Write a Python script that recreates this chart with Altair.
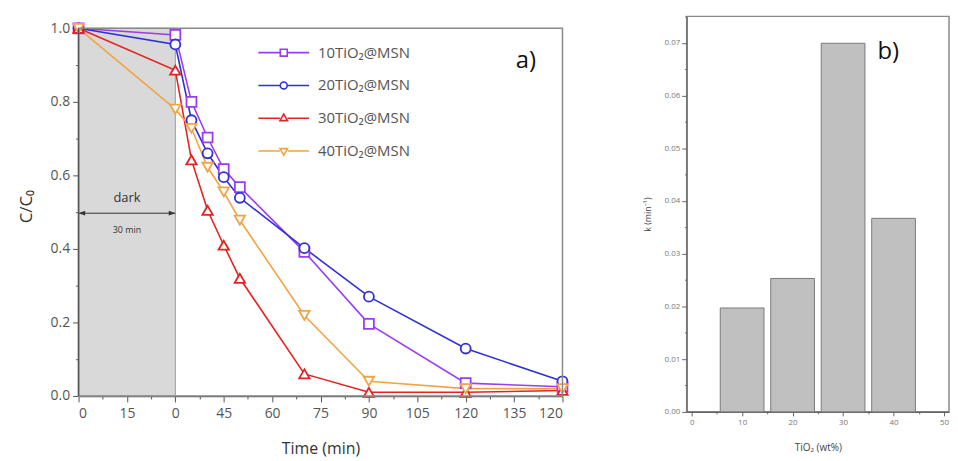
import altair as alt
import pandas as pd

# ---------------- data ----------------
time_min = [0, 30, 35, 40, 45, 50, 70, 90, 120, 150]
series_names = ["10TiO₂@MSN", "20TiO₂@MSN", "30TiO₂@MSN", "40TiO₂@MSN"]
c_10 = [1.0, 0.982, 0.80, 0.703, 0.617, 0.568, 0.392, 0.196, 0.035, 0.025]
c_20 = [1.0, 0.956, 0.75, 0.66, 0.595, 0.539, 0.402, 0.27, 0.129, 0.04]
c_30 = [1.0, 0.886, 0.642, 0.505, 0.41, 0.32, 0.06, 0.01, 0.01, 0.015]
c_40 = [1.0, 0.78, 0.728, 0.622, 0.555, 0.478, 0.219, 0.04, 0.02, 0.02]
series_values = [c_10, c_20, c_30, c_40]
series_colors = ["#9b3cf0", "#3030d6", "#e62222", "#f2a444"]
series_shapes = ["square", "circle", "triangle-up", "triangle-down"]
series_sizes = [100, 100, 110, 110]

x_tick_labels = ["0", "15", "0", "45", "60", "75", "90", "105", "120", "135", "120"]

dark_start, dark_end = 0, 30
y_top_extra = 1.0324  # panel a plot area extends slightly above 1.0

tio2_wt = [10, 20, 30, 40]
k_values = [0.0197, 0.0253, 0.0699, 0.0367]

FONT = "Open Sans"

# ---------------- panel a ----------------
rows = []
for name, vals in zip(series_names, series_values):
    for t, c in zip(time_min, vals):
        rows.append({"t": t, "c": c, "series": name})
df = pd.DataFrame(rows)

label_arr = "[" + ",".join("'%s'" % s for s in x_tick_labels) + "]"
x_axis = alt.Axis(
    values=[i * 7.5 for i in range(21)],
    labelExpr="datum.value %% 15 === 0 ? %s[round(datum.value/15)] : ''" % label_arr,
    tickSize={"condition": {"test": "datum.value % 15 === 0", "value": 6}, "value": 3},
    labelFontSize=14, labelColor="#555", labelFont=FONT, labelPadding=5,
    title="Time (min)", titleFontSize=16, titleFont=FONT, titleColor="#333",
    titleFontWeight="normal", titlePadding=20,
    grid=False, domainColor="#555", domainWidth=1.5, tickColor="#555",
    labelOverlap=False,
)
y_axis = alt.Axis(
    values=[round(i * 0.1, 1) for i in range(11)],
    labelExpr="round(datum.value*10) % 2 === 0 ? format(datum.value, '.1f') : ''",
    tickSize={"condition": {"test": "round(datum.value*10) % 2 === 0", "value": 6}, "value": 3},
    labelFontSize=14, labelColor="#555", labelFont=FONT, labelPadding=3,
    title="C/C₀", titleFontSize=17, titleFont=FONT, titleColor="#333",
    titleFontWeight="normal", titlePadding=15, domain=False,
    grid=False, tickColor="#555",
)
xs = alt.Scale(domain=[0, 150], nice=False, zero=False)
ys = alt.Scale(domain=[0, y_top_extra], nice=False)

X = alt.X("t:Q", scale=xs, axis=x_axis)
Y = alt.Y("c:Q", scale=ys, axis=y_axis)
color_scale = alt.Scale(domain=series_names, range=series_colors)

dark_df = pd.DataFrame({"t": [dark_start], "t_end": [dark_end], "c": [0.0], "c_end": [1.0]})
dark = alt.Chart(dark_df).mark_rect(fill="#d9d9d9", stroke="#9a9a9a", strokeWidth=1).encode(
    x=X, x2="t_end:Q", y=Y, y2="c_end:Q")

frame_df = pd.DataFrame({"t": [0], "t_end": [150], "c": [0.0], "c_end": [1.0]})
frame = alt.Chart(frame_df).mark_rect(fill="white", fillOpacity=0, stroke="#8a8a8a",
                                      strokeWidth=1.5).encode(x=X, x2="t_end:Q", y=Y, y2="c_end:Q")
left_axis_line = alt.Chart(frame_df).mark_rule(color="#555", strokeWidth=1.5).encode(
    x=X, y=Y, y2="c_end:Q")

arrow_df = pd.DataFrame({"t": [dark_start], "t_end": [dark_end], "c": [0.497]})
arrow = alt.Chart(arrow_df).mark_rule(color="#333", strokeWidth=1).encode(x=X, x2="t_end:Q", y=Y)
head_l = alt.Chart(pd.DataFrame({"t": [dark_start], "c": [0.497]})).mark_point(
    filled=True, color="#333", size=36, opacity=1, shape="M0,0L2.2,-0.8L2.2,0.8Z").encode(x=X, y=Y)
head_r = alt.Chart(pd.DataFrame({"t": [dark_end], "c": [0.497]})).mark_point(
    filled=True, color="#333", size=36, opacity=1, shape="M0,0L-2.2,-0.8L-2.2,0.8Z").encode(x=X, y=Y)

ann_dark = alt.Chart(pd.DataFrame({"t": [15], "c": [0.537], "txt": ["dark"]})).mark_text(
    font=FONT, fontSize=13, color="#333", baseline="middle").encode(x=X, y=Y, text="txt:N")
ann_min = alt.Chart(pd.DataFrame({"t": [15], "c": [0.45], "txt": ["30 min"]})).mark_text(
    font=FONT, fontSize=9, color="#333", baseline="middle").encode(x=X, y=Y, text="txt:N")

series_layers = []
for name, col, shp, sz in zip(series_names, series_colors, series_shapes, series_sizes):
    sub = df[df["series"] == name]
    series_layers.append(alt.Chart(sub).mark_line(strokeWidth=1.6, color=col).encode(x=X, y=Y))
for name, col, shp, sz in zip(series_names, series_colors, series_shapes, series_sizes):
    sub = df[df["series"] == name]
    series_layers.append(
        alt.Chart(sub).mark_point(shape=shp, size=sz, filled=False, fill="white", fillOpacity=1,
                                  stroke=col, strokeWidth=1.8, opacity=1).encode(x=X, y=Y))

legend_paths = [
    "M-7.3,0H-1M1,0H7.3M-1,-1H1V1H-1Z",
    "M-7.3,0H-1M1,0H7.3M1,0A1,1 0 1,1 -1,0A1,1 0 1,1 1,0Z",
    "M-7.3,0H-1.1M1.1,0H7.3M0,-1.2L1.1,0.7H-1.1Z",
    "M-7.3,0H-1.1M1.1,0H7.3M0,1.2L1.1,-0.7H-1.1Z",
]
legend_layer = alt.Chart(df).transform_filter("false").mark_point(filled=False, strokeWidth=1.6).encode(
    x=X, y=Y,
    color=alt.Color("series:N", scale=color_scale,
                    legend=alt.Legend(orient="none", legendX=199, legendY=29, title=None,
                                      labelFont=FONT, labelFontSize=15, labelColor="#555",
                                      symbolSize=49, symbolStrokeWidth=1.6, labelOffset=27,
                                      rowPadding=17, padding=0, symbolOpacity=1)),
    shape=alt.Shape("series:N", scale=alt.Scale(domain=series_names, range=legend_paths)),
)

label_df = pd.DataFrame({"txt": ["a)"]})
label_a = alt.Chart(label_df).mark_text(font=FONT, fontSize=24, color="#111", align="left",
                                        baseline="middle").encode(
    x=alt.value(440), y=alt.value(45), text="txt:N")

panel_a = alt.layer(dark, arrow, head_l, head_r, ann_dark, ann_min, *series_layers,
                    frame, left_axis_line, legend_layer, label_a).properties(
    width=487, height=382, view=alt.ViewBackground(strokeOpacity=0))

# ---------------- panel b ----------------
bdf = pd.DataFrame({"wt": tio2_wt, "k": k_values})
bx_axis = alt.Axis(
    values=[i * 5 for i in range(11)],
    labelExpr="datum.value % 10 === 0 ? datum.value : ''",
    tickSize={"condition": {"test": "datum.value % 10 === 0", "value": 4}, "value": 2},
    labelFontSize=8, labelColor="#777", labelFont=FONT, labelPadding=3,
    title="TiO₂ (wt%)", titleFontSize=10, titleFont=FONT, titleColor="#444",
    titleFontWeight="normal", titlePadding=16, labelFlush=True,
    grid=False, domainColor="#666", domainWidth=1.2, tickColor="#666", labelOverlap=False,
)
by_axis = alt.Axis(
    values=[round(i * 0.005, 3) for i in range(16)],
    labelExpr="round(datum.value*1000) % 10 === 0 ? format(datum.value, '.2f') : ''",
    tickSize={"condition": {"test": "round(datum.value*1000) % 10 === 0", "value": 5}, "value": 2},
    labelFontSize=8, labelColor="#777", labelFont=FONT, labelPadding=2,
    title="k (min⁻¹)", titleFontSize=9, titleFont=FONT, titleColor="#444",
    titleFontWeight="normal", titlePadding=12,
    grid=False, domainColor="#666", domainWidth=1.2, tickColor="#666", labelOverlap=False,
)
bars = alt.Chart(bdf).mark_bar(size=44, fill="#c0c0c0", stroke="#7a7a7a", strokeWidth=1).encode(
    x=alt.X("wt:Q", scale=alt.Scale(domain=[0, 50], nice=False), axis=bx_axis),
    y=alt.Y("k:Q", scale=alt.Scale(domain=[0, 0.075], nice=False), axis=by_axis),
)
label_b = alt.Chart(label_df.assign(txt=["b)"])).mark_text(font=FONT, fontSize=24, color="#111",
                                                            align="left", baseline="middle").encode(
    x=alt.value(192), y=alt.value(36), text="txt:N")
panel_b = alt.layer(bars, label_b).properties(width=264, height=398)

chart = alt.hconcat(panel_a, panel_b, spacing=71).properties(
    padding={"left": 9, "top": 2, "right": 0, "bottom": 0}
).configure_view(stroke="#8a8a8a", strokeWidth=1.5)

chart.save("out.html", embed_options={"renderer": "svg", "actions": False})
